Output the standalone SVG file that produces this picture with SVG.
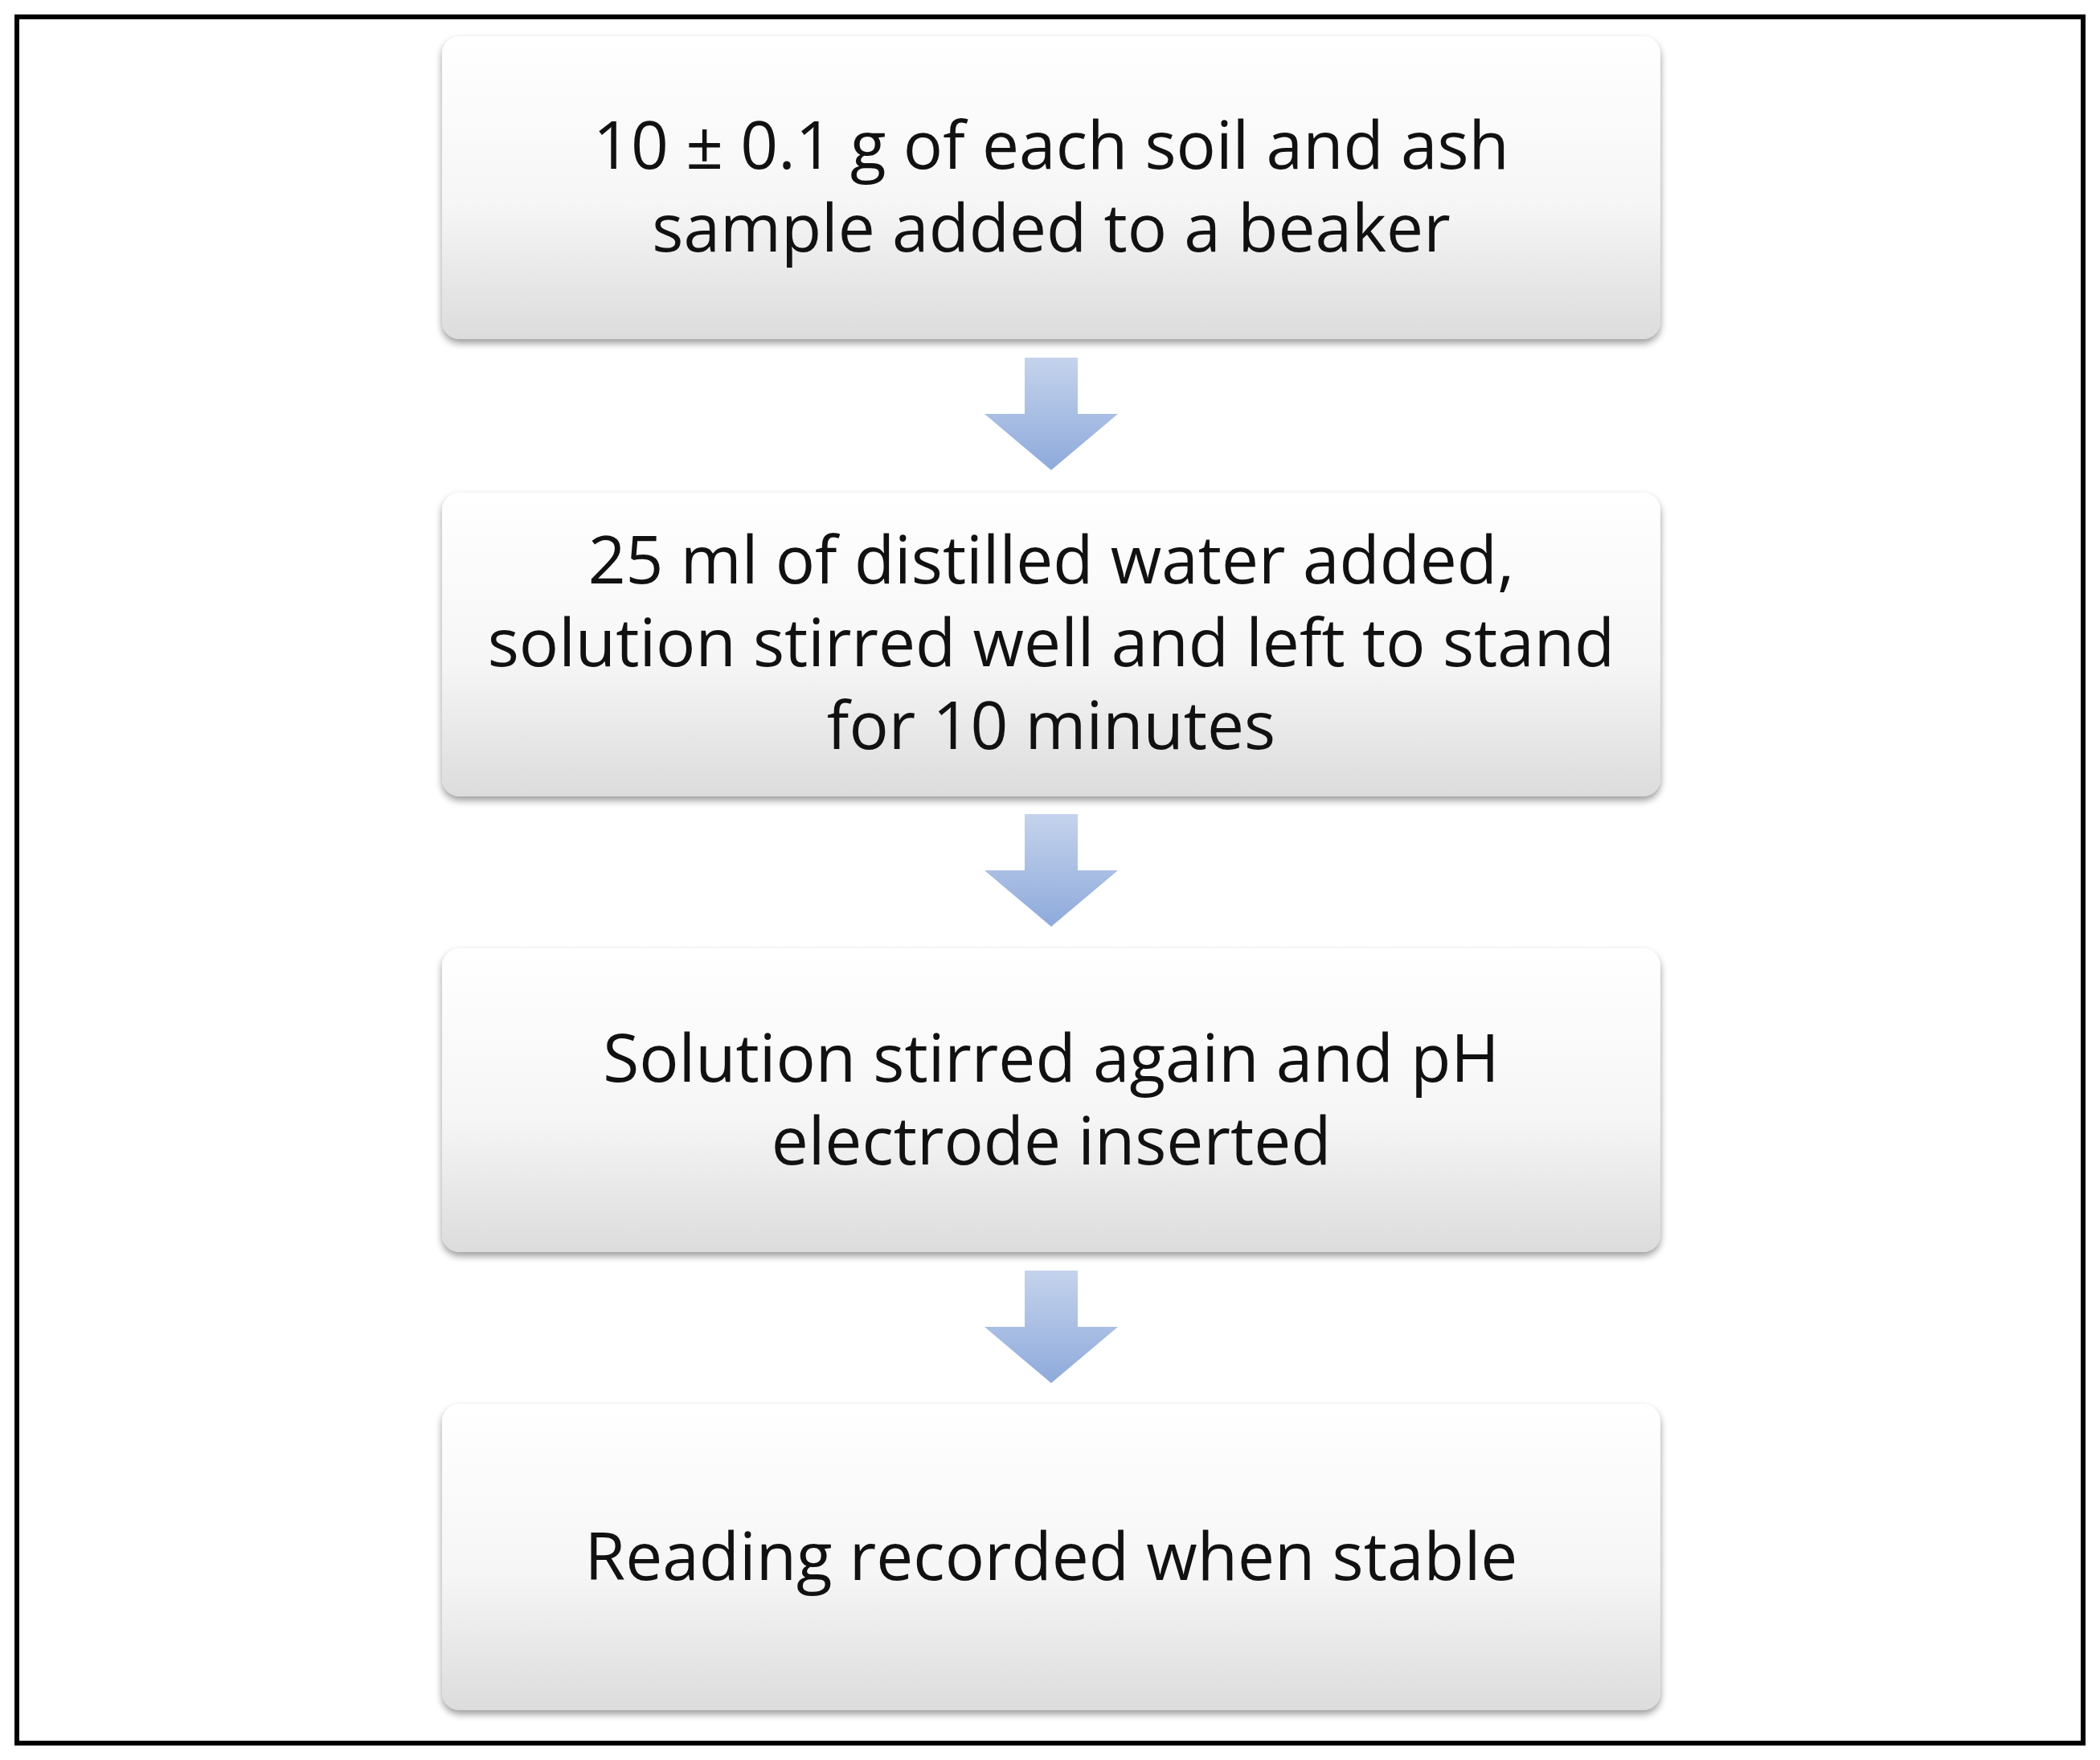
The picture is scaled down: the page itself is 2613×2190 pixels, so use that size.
<svg xmlns="http://www.w3.org/2000/svg" width="2613" height="2190" viewBox="0 0 2613 2190">
<defs>
<linearGradient id="bg" x1="0" y1="0" x2="0" y2="1"><stop offset="0" stop-color="#ffffff"/><stop offset="0.55" stop-color="#f6f6f6"/><stop offset="1" stop-color="#dcdcdc"/></linearGradient>
<linearGradient id="ag" x1="0" y1="0" x2="0" y2="1"><stop offset="0" stop-color="#c5d3ec"/><stop offset="1" stop-color="#8eaadb"/></linearGradient>
<filter id="sh" x="-5%" y="-10%" width="110%" height="125%"><feGaussianBlur in="SourceAlpha" stdDeviation="5"/><feOffset dy="5"/><feComponentTransfer><feFuncA type="linear" slope="0.4"/></feComponentTransfer><feMerge><feMergeNode/><feMergeNode in="SourceGraphic"/></feMerge></filter>
</defs>
<style>
.box{fill:url(#bg);filter:url(#sh)}
.arr{fill:url(#ag)}
text{font-family:"Open Sans","Liberation Sans",sans-serif;font-size:82px;fill:#111;text-anchor:middle}
</style>
<rect width="2613" height="2190" fill="#fff"/>
<rect x="21" y="21" width="2571" height="2148" fill="none" stroke="#000" stroke-width="6"/>
<g id="connectors">
<path class="arr" d="M1275 445H1341V515H1391L1308 585L1225 515H1275Z"/>
<path class="arr" d="M1275 1013H1341V1083H1391L1308 1153L1225 1083H1275Z"/>
<path class="arr" d="M1275 1581H1341V1651H1391L1308 1721L1225 1651H1275Z"/>
</g>
<g id="n1"><rect class="box" x="550" y="45" width="1516" height="377" rx="22"/>
<text x="1308" y="210">10 ± 0.1 g of each soil and ash</text><text x="1308" y="313">sample added to a beaker</text></g>
<g id="n2"><rect class="box" x="550" y="613" width="1516" height="378" rx="22"/>
<text x="1308" y="726">25 ml of distilled water added,</text><text x="1308" y="829">solution stirred well and left to stand</text><text x="1308" y="932">for 10 minutes</text></g>
<g id="n3"><rect class="box" x="550" y="1180" width="1516" height="378" rx="22"/>
<text x="1308" y="1346">Solution stirred again and pH</text><text x="1308" y="1449">electrode inserted</text></g>
<g id="n4"><rect class="box" x="550" y="1747" width="1516" height="381" rx="22"/>
<text x="1308" y="1966">Reading recorded when stable</text></g>
</svg>
